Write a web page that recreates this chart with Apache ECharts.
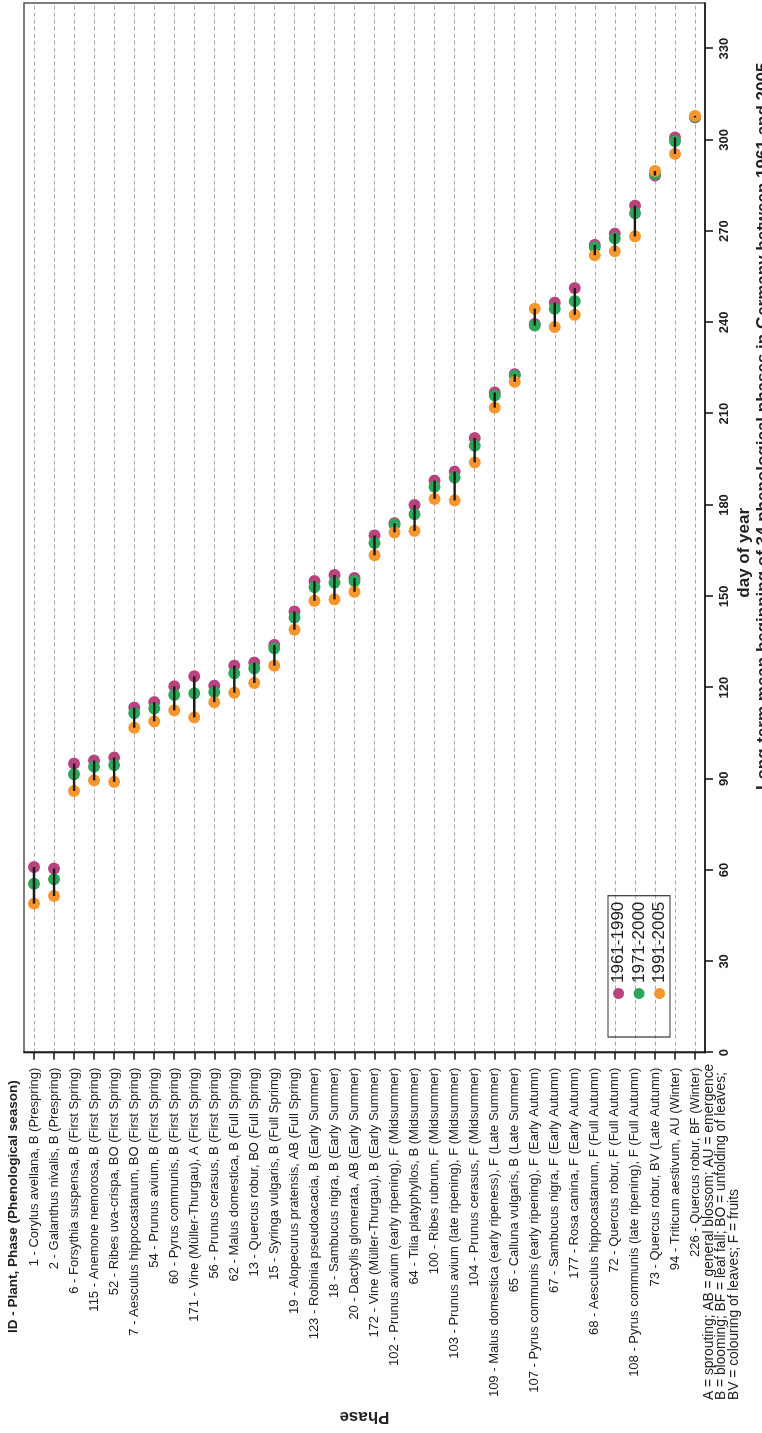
<!DOCTYPE html>
<html>
<head>
<meta charset="utf-8">
<script src="https://cdn.jsdelivr.net/npm/echarts@6/dist/echarts.min.js"></script>
<style>
  html, body { margin: 0; padding: 0; background: #fff; overflow: hidden; width: 762px; height: 1433px; }
  #wrap { position: absolute; left: 0; top: 0; width: 1433px; height: 762px;
          transform-origin: 0 0; transform: translateY(1433px) rotate(-90deg); }
</style>
</head>
<body>
<div id="wrap"></div>
<script>
// ---- DATA ----
const categories = [
  "1 - Corylus avellana, B (Prespring)",
  "2 - Galanthus nivalis, B (Prespring)",
  "6 - Forsythia suspensa, B (First Spring)",
  "115 - Anemone nemorosa, B (First Spring)",
  "52 - Ribes uva-crispa, BO (First Spring)",
  "7 - Aesculus hippocastanum, BO (First Spring)",
  "54 - Prunus avium, B (First Spring)",
  "60 - Pyrus communis, B (First Spring)",
  "171 - Vine (Müller-Thurgau), A (First Spring)",
  "56 - Prunus cerasus, B (First Spring)",
  "62 - Malus domestica, B (Full Spring)",
  "13 - Quercus robur, BO (Full Spring)",
  "15 - Syringa vulgaris, B (Full Sprimg)",
  "19 - Alopecurus pratensis, AB (Full Spring)",
  "123 - Robinia pseudoacacia, B (Early Summer)",
  "18 - Sambucus nigra, B (Early Summer)",
  "20 - Dactylis glomerata, AB (Early Summer)",
  "172 - Vine (Müller-Thurgau), B (Early Summer)",
  "102 - Prunus avium (early ripening), F (Midsummer)",
  "64 - Tilia platyphyllos, B (Midsummer)",
  "100 - Ribes rubrum, F (Midsummer)",
  "103 - Prunus avium (late ripening), F (Midsummer)",
  "104 - Prunus cerasus, F (Midsummer)",
  "109 - Malus domestica (early ripeness), F (Late Summer)",
  "65 - Calluna vulgaris, B (Late Summer)",
  "107 - Pyrus communis (early ripening), F (Early Autumn)",
  "67 - Sambucus nigra, F (Early Autumn)",
  "177 - Rosa canina, F (Early Autumn)",
  "68 - Aesculus hippocastanum, F (Full Autumn)",
  "72 - Quercus robur, F (Full Autumn)",
  "108 - Pyrus communis (late ripening), F (Full Autumn)",
  "73 - Quercus robur, BV (Late Autumn)",
  "94 - Triticum aestivum, AU (Winter)",
  "226 - Quercus robur, BF (Winter)"
];
const period1961_1990 = [61, 60.5, 95, 96, 97, 113.4, 115.2, 120.4, 123.7, 120.6, 127.2, 128.2, 134.0, 145, 155, 157, 156, 170, 174, 180, 188, 191, 202, 217, 223, 239.5, 246.5, 251.3, 265.5, 269.2, 278.4, 288.3, 300.8, 307.4];
const period1971_2000 = [55.5, 57, 91.5, 94, 94.5, 111.6, 113.1, 117.6, 118.1, 118.5, 124.7, 126.3, 132.9, 143, 153, 154.5, 155, 167.5, 173.5, 177, 186, 189, 199.5, 216, 222.5, 239, 244.5, 247, 264.7, 267.6, 275.9, 288.8, 299.6, 307.6];
const period1991_2005 = [49, 51.5, 86, 89.5, 89, 106.8, 108.9, 112.5, 110.2, 115.2, 118.3, 121.5, 127.2, 139, 148.5, 149, 151.5, 163.5, 171, 171.5, 182, 181.5, 194, 212, 220.5, 244.5, 238.5, 242.5, 262.1, 263.4, 268.3, 289.8, 295.4, 307.9];
const seriesNames = ["1961-1990", "1971-2000", "1991-2005"];
const dayTicks = [0, 30, 60, 90, 120, 150, 180, 210, 240, 270, 300, 330];
const titleText = "Long-term mean beginning of 34 phenological phases in Germany between 1961 and 2005";
const footnoteLines = [
  "A = sprouting; AB = general blossom; AU = emergence",
  "B = blooming; BF = leaf fall; BO = unfolding of leaves;",
  "BV = colouring of leaves; F = fruits"
];

// ---- CHART ----
const FONT = "'Liberation Sans', Arial, Helvetica, sans-serif";
const colors = ["#b8437f", "#2ca75a", "#f5962f"];
const allSeries = [period1961_1990, period1971_2000, period1991_2005];

const chart = echarts.init(document.getElementById('wrap'), null, { renderer: 'canvas', width: 1433, height: 762 });

const rangeData = categories.map((c, i) => {
  const v = allSeries.map(s => s[i]);
  return [i, Math.min.apply(null, v), Math.max.apply(null, v)];
});

const scatterSeries = allSeries.map((arr, k) => ({
  name: seriesNames[k],
  type: 'scatter',
  symbol: 'circle',
  symbolSize: 12,
  itemStyle: { color: colors[k], opacity: 1 },
  z: 2 + k * 0.1,
  data: arr.map((v, i) => [v, i])
}));

const option = {
  backgroundColor: '#ffffff',
  animation: false,
  textStyle: { fontFamily: FONT },
  grid: {
    left: 373, right: 3, top: 24, bottom: 57,
    show: true, borderColor: '#555', borderWidth: 1.5, backgroundColor: 'transparent',
    containLabel: false
  },
  legend: {
    orient: 'vertical',
    left: 396, top: 608,
    data: seriesNames,
    icon: 'circle',
    itemWidth: 11, itemHeight: 11,
    itemGap: 3.5,
    padding: [2, 6, 2, 38],
    borderColor: '#333', borderWidth: 1.2,
    textStyle: { fontSize: 17, color: '#222', fontFamily: FONT, lineHeight: 17 }
  },
  xAxis: {
    type: 'value',
    min: 0, max: 345, interval: 30,
    position: 'bottom',
    name: 'day of year',
    nameLocation: 'middle',
    nameGap: 31,
    nameTextStyle: { fontSize: 17, fontWeight: 'bold', color: '#222', fontFamily: FONT, padding: [0, 50, 0, 0] },
    axisLine: { show: true, onZero: false, lineStyle: { color: '#111', width: 1.5 } },
    axisTick: { show: true, length: 8, lineStyle: { color: '#111', width: 1.5 }, customValues: dayTicks },
    axisLabel: { show: true, fontSize: 13, fontWeight: 'bold', color: '#222', margin: 13, customValues: dayTicks, fontFamily: FONT },
    splitLine: { show: false }
  },
  yAxis: {
    type: 'category',
    data: categories,
    inverse: true,
    boundaryGap: true,
    name: 'Phase',
    nameLocation: 'middle',
    nameRotate: 90,
    nameGap: 353,
    nameTextStyle: { fontSize: 17, fontWeight: 'bold', color: '#222', fontFamily: FONT },
    axisLine: { show: true, lineStyle: { color: '#111', width: 1.5 } },
    axisTick: { show: true, alignWithLabel: true, length: 7, interval: 0, lineStyle: { color: '#111', width: 1.5 } },
    axisLabel: { show: true, interval: 0, fontSize: 13, color: '#222', margin: 15, fontFamily: FONT },
    splitLine: { show: true, interval: 0, alignWithLabel: true, lineStyle: { color: '#a8a8a8', width: 1.2, type: [4, 3] } }
  },
  graphic: [
    {
      type: 'text', left: 100, top: 6, silent: true,
      style: { text: 'ID - Plant, Phase (Phenological season)', fontSize: 13.5, fontWeight: 'bold', fill: '#222', fontFamily: FONT }
    },
    {
      type: 'text', left: 33, top: 702, silent: true,
      style: { text: footnoteLines.join('\n'), fontSize: 13.8, lineHeight: 12.5, fill: '#222', fontFamily: FONT }
    },
    {
      type: 'text', left: 643, top: 755, silent: true,
      style: { text: titleText, fontSize: 17, fontWeight: 'bold', fill: '#222', fontFamily: FONT }
    }
  ],
  series: scatterSeries.concat([{
    name: 'range',
    type: 'custom',
    z: 5,
    encode: { x: [1, 2], y: 0 },
    data: rangeData,
    renderItem: function (params, api) {
      const a = api.coord([api.value(1), api.value(0)]);
      const b = api.coord([api.value(2), api.value(0)]);
      return {
        type: 'line',
        shape: { x1: a[0], y1: a[1], x2: b[0], y2: b[1] },
        style: { stroke: '#1a1a1a', lineWidth: 2.4 }
      };
    }
  }])
};
chart.setOption(option);
</script>
</body>
</html>
